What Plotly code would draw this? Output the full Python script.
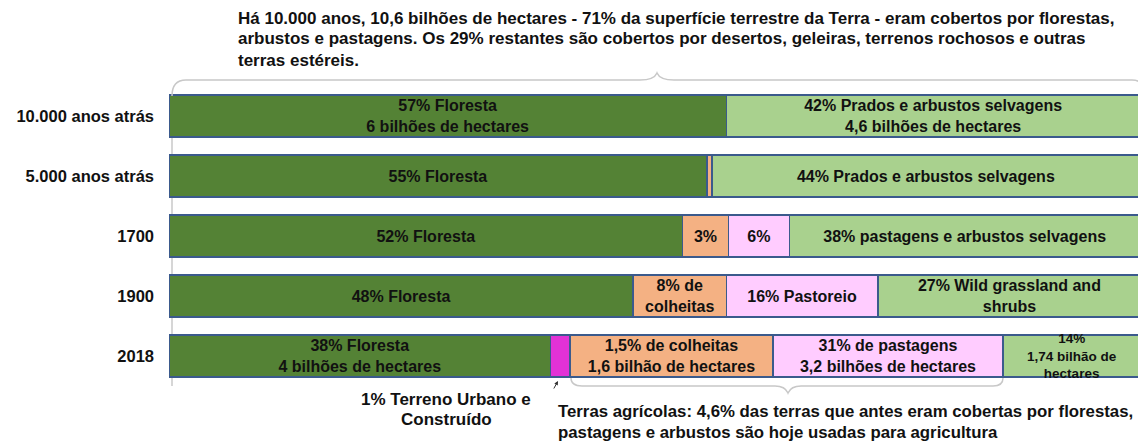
import plotly.graph_objects as go

# ---------------- data ----------------
periods = ["10.000 anos atrás", "5.000 anos atrás", "1700", "1900", "2018"]

# share of each bar (percent of bar length)
forest = [57.4, 55.4, 52.9, 47.8, 39.3]
urban = [0, 0, 0, 0, 2.0]
crops = [0, 0.5, 4.7, 9.6, 20.9]
pasture = [0, 0, 6.3, 15.6, 23.7]
wild = [42.6, 44.1, 36.1, 27.1, 14.1]

forest_txt = ["57% Floresta<br>6 bilhões de hectares", "55% Floresta", "52% Floresta",
              "48% Floresta", "38% Floresta<br>4 bilhões de hectares"]
urban_txt = ["", "", "", "", ""]
crops_txt = ["", "", "3%", "8% de<br>colheitas", "1,5% de colheitas<br>1,6 bilhão de hectares"]
pasture_txt = ["", "", "6%", "16% Pastoreio", "31% de pastagens<br>3,2 bilhões de hectares"]
wild_txt = ["42% Prados e arbustos selvagens<br>4,6 bilhões de hectares",
            "44% Prados e arbustos selvagens",
            "38% pastagens e arbustos selvagens",
            "27% Wild grassland and<br>shrubs",
            "14%<br>1,74 bilhão de<br>hectares"]

# ---------------- styling ----------------
FONT = "Liberation Sans, Arial, sans-serif"
OUTLINE = "#3b5a8c"
BAR_FS = 16
SMALL_FS = 13.5

# the page body adds an 8px offset; compensate so the picture lines up
OFF = 8
W, H = 1146 - OFF, 441 - OFF
ML, MR, MT, MB = 169 - OFF, 6, 86 - OFF, 55
PW = W - ML - MR
PH = H - MT - MB


def px(xp):
    return (xp - OFF - ML) / PW


def py(yp):
    return (H - MB - (yp - OFF)) / PH


fig = go.Figure()

# the narrow 2018 wild segment gets its (3-line) label as an annotation so that
# Plotly does not shrink it
wild_bar_txt = wild_txt[:4] + [""]

series = [
    ("Floresta", forest, forest_txt, "#548235"),
    ("Urbano", urban, urban_txt, "#e232d6"),
    ("Colheitas", crops, crops_txt, "#f4b183"),
    ("Pastagens", pasture, pasture_txt, "#ffccff"),
    ("Selvagem", wild, wild_bar_txt, "#a9d18e"),
]

for name, vals, txt, col in series:
    fig.add_trace(go.Bar(
        y=periods, x=vals, orientation="h", name=name,
        marker=dict(color=col, line=dict(color=OUTLINE, width=1.5)),
        text=["<b>%s</b>" % t if t else "" for t in txt],
        textposition="inside", insidetextanchor="middle",
        textfont=dict(family=FONT, size=BAR_FS, color="#111111"),
        constraintext="none", hoverinfo="skip",
    ))

# label for the last wild segment, centred on the segment (from the data)
last = len(periods) - 1
seg_start = forest[last] + urban[last] + crops[last] + pasture[last]
fig.add_annotation(x=seg_start + wild[last] / 2, y=last, xref="x", yref="y",
                   text="<b>%s</b>" % wild_txt[last], showarrow=False,
                   xanchor="center", yanchor="middle",
                   font=dict(family=FONT, size=SMALL_FS, color="#111111"))

fig.update_layout(
    width=W, height=H,
    margin=dict(l=ML, r=MR, t=MT, b=MB),
    barmode="stack", bargap=0.3,
    showlegend=False,
    plot_bgcolor="white", paper_bgcolor="white",
    font=dict(family=FONT, color="#111111"),
    xaxis=dict(range=[0, 100], visible=False, fixedrange=True),
    yaxis=dict(type="category", categoryorder="array", categoryarray=periods,
               range=[len(periods) - 0.5, -0.5],
               showgrid=False, showline=False, ticks="",
               tickfont=dict(family=FONT, size=16.5, color="#111111", weight="bold"),
               ticklabelstandoff=14),
)

GRAY = "#c8c8c8"
# side frame lines
fig.add_shape(type="line", xref="paper", yref="paper", x0=px(172), x1=px(172),
              y0=py(96), y1=py(386), line=dict(color=GRAY, width=1.5), layer="below")
fig.add_shape(type="line", xref="paper", yref="paper", x0=px(1143), x1=px(1143),
              y0=py(90), y1=py(385), line=dict(color=GRAY, width=1.5), layer="below")


def path(pts):
    s = ""
    for cmd, coords in pts:
        s += cmd + " " + " ".join("%.5f,%.5f" % (px(a), py(b)) for a, b in coords) + " "
    return s.strip()


top_brace = path([
    ("M", [(172, 96)]), ("Q", [(172, 80), (186, 80)]), ("L", [(640, 80)]),
    ("Q", [(654, 80), (657, 73)]), ("Q", [(660, 80), (674, 80)]),
    ("L", [(1132, 80)]), ("Q", [(1143, 80), (1143, 90)]),
])
fig.add_shape(type="path", xref="paper", yref="paper", path=top_brace,
              line=dict(color=GRAY, width=1.5))

bottom_brace = path([
    ("M", [(571, 378)]), ("Q", [(571, 386), (582, 386)]), ("L", [(775, 386)]),
    ("Q", [(785, 386), (788, 393)]), ("Q", [(791, 386), (801, 386)]),
    ("L", [(993, 386)]), ("Q", [(1003, 386), (1003, 378)]),
])
fig.add_shape(type="path", xref="paper", yref="paper", path=bottom_brace,
              line=dict(color=GRAY, width=1.5))

# arrow for urban
fig.add_annotation(xref="paper", yref="paper", x=px(558), y=py(381), ax=-5, ay=9,
                   axref="pixel", ayref="pixel", text="", showarrow=True,
                   arrowhead=2, arrowsize=0.8, arrowwidth=1, arrowcolor="#333333")

TXT_FS = 17
top_lines = [
    "Há 10.000 anos, 10,6 bilhões de hectares - 71% da superfície terrestre da Terra - eram cobertos por florestas,",
    "arbustos e pastagens. Os 29% restantes são cobertos por desertos, geleiras, terrenos rochosos e outras",
    "terras estéreis.",
]
for i, line in enumerate(top_lines):
    fig.add_annotation(xref="paper", yref="paper", x=px(236), y=py(18 + 21 * i),
                       xanchor="left", yanchor="middle", showarrow=False,
                       text="<b>%s</b>" % line,
                       font=dict(family=FONT, size=TXT_FS, color="#111111"))

fig.add_annotation(xref="paper", yref="paper", x=px(446), y=py(399), xanchor="center",
                   yanchor="middle", showarrow=False, text="<b>1% Terreno Urbano e</b>",
                   font=dict(family=FONT, size=TXT_FS, color="#111111"))
fig.add_annotation(xref="paper", yref="paper", x=px(446), y=py(419), xanchor="center",
                   yanchor="middle", showarrow=False, text="<b>Construído</b>",
                   font=dict(family=FONT, size=TXT_FS, color="#111111"))

bottom_lines = [
    "Terras agrícolas: 4,6% das terras que antes eram cobertas por florestas,",
    "pastagens e arbustos são hoje usadas para agricultura",
]
for i, line in enumerate(bottom_lines):
    fig.add_annotation(xref="paper", yref="paper", x=px(556), y=py(411 + 21 * i),
                       xanchor="left", yanchor="middle", showarrow=False,
                       text="<b>%s</b>" % line,
                       font=dict(family=FONT, size=16.8, color="#111111"))

fig.write_html("out.html")
